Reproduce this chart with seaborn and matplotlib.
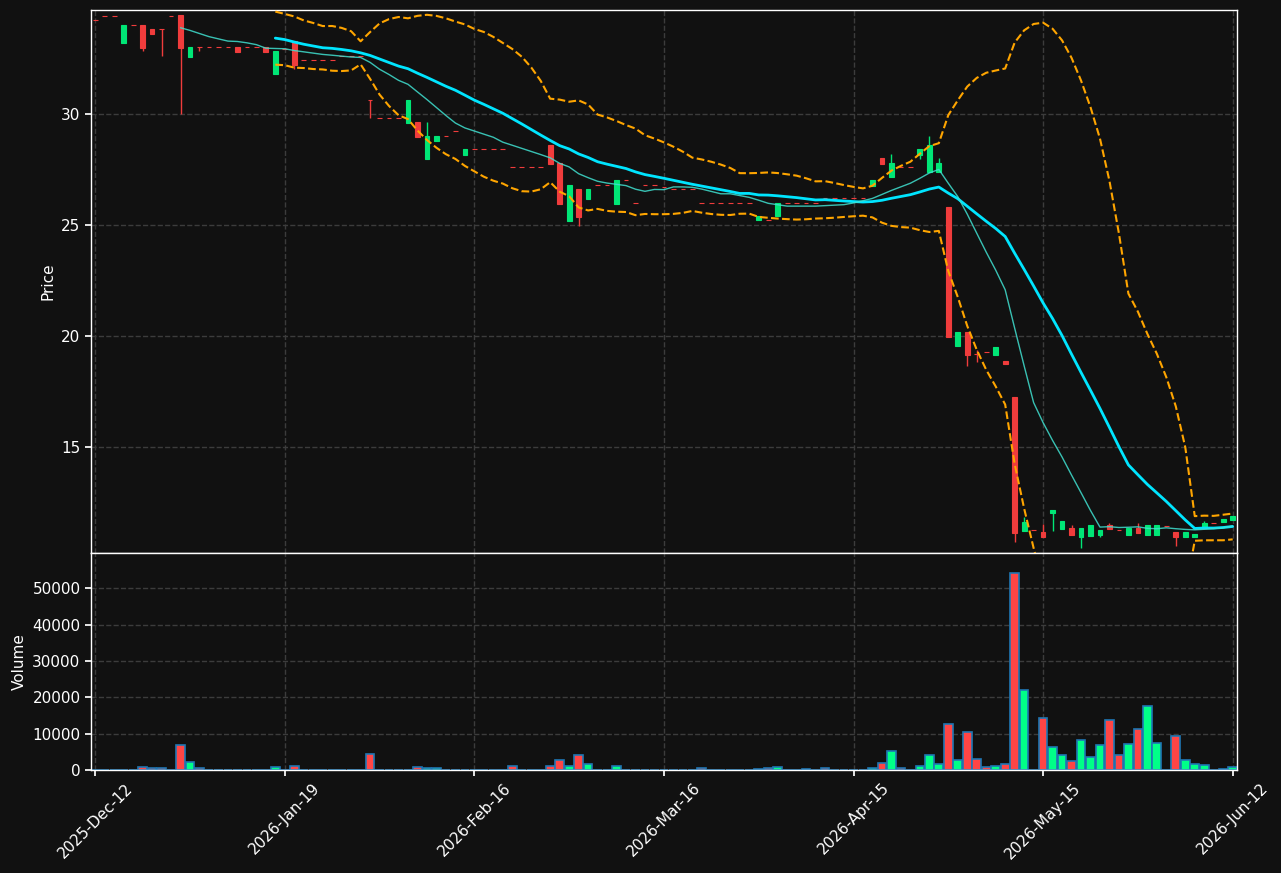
import numpy as np
import pandas as pd
import matplotlib
matplotlib.use("Agg")
import matplotlib.pyplot as plt
import seaborn as sns

# tick labels every 20 sessions
tick_pos = [0, 20, 40, 60, 80, 100, 120]
tick_labels = ["2025-Dec-12", "2026-Jan-19", "2026-Feb-16", "2026-Mar-16",
               "2026-Apr-15", "2026-May-15", "2026-Jun-12"]

opens = [
    34.22, 34.40, 34.40, 33.20, 34.00, 34.01, 33.83, 33.82, 34.40, 34.45,
    32.57, 33.00, 33.00, 33.00, 33.00, 33.02, 33.00, 33.00, 33.00, 31.80,
    32.90, 33.27, 32.42, 32.42, 32.42, 32.42, 32.60, 32.60, 32.60, 30.62,
    29.81, 29.81, 29.81, 29.60, 29.64, 27.99, 28.80, 29.00, 29.22, 28.15,
    28.41, 28.41, 28.41, 28.41, 27.60, 27.60, 27.60, 27.60, 28.60, 27.78,
    25.18, 26.62, 26.17, 26.79, 26.79, 25.95, 27.03, 25.98, 26.79, 26.79,
    26.70, 26.61, 26.61, 26.61, 25.98, 25.98, 25.98, 25.98, 25.98, 25.98,
    25.20, 25.21, 25.38, 25.98, 25.98, 25.98, 25.98, 26.20, 26.20, 26.20,
    26.20, 26.20, 26.77, 28.02, 27.18, 27.60, 27.60, 28.17, 27.40, 27.40,
    25.81, 19.56, 20.18, 19.18, 19.27, 19.16, 18.87, 17.25, 11.22, 11.25,
    11.17, 12.04, 11.31, 11.35, 10.95, 10.99, 11.04, 11.47, 11.26, 11.04,
    11.37, 11.04, 11.04, 11.46, 11.17, 10.95, 10.95, 11.35, 11.56, 11.64,
    11.71,
]
closes = [
    34.22, 34.40, 34.40, 34.01, 34.00, 32.97, 33.60, 33.82, 34.40, 32.97,
    33.02, 33.00, 33.00, 33.00, 33.00, 32.79, 33.00, 33.00, 32.80, 32.84,
    32.90, 32.19, 32.42, 32.42, 32.42, 32.42, 32.60, 32.60, 32.60, 30.62,
    29.81, 29.81, 29.81, 30.63, 28.98, 29.00, 29.00, 29.00, 29.22, 28.42,
    28.41, 28.41, 28.41, 28.41, 27.60, 27.60, 27.60, 27.60, 27.75, 25.94,
    26.80, 25.36, 26.62, 26.79, 26.79, 27.03, 27.03, 25.98, 26.79, 26.79,
    26.70, 26.61, 26.61, 26.61, 25.98, 25.98, 25.98, 25.98, 25.98, 25.98,
    25.42, 25.21, 25.98, 25.98, 25.98, 25.98, 25.98, 26.20, 26.20, 26.20,
    26.20, 26.20, 27.03, 27.76, 27.79, 27.60, 27.60, 28.42, 28.60, 27.79,
    19.97, 20.18, 19.14, 19.18, 19.27, 19.50, 18.75, 11.14, 11.63, 11.25,
    10.95, 12.16, 11.67, 11.05, 11.35, 11.49, 11.26, 11.32, 11.26, 11.37,
    11.13, 11.49, 11.49, 11.46, 10.95, 11.17, 11.08, 11.56, 11.56, 11.76,
    11.89,
]
# wick ends that go beyond the body
upper_wicks = {35: 29.63, 84: 28.20, 88: 29.00, 89: 28.02, 93: 19.37, 98: 11.86,
               100: 11.53, 103: 11.49, 107: 11.59, 110: 11.59, 117: 11.68}
lower_wicks = {5: 32.82, 7: 32.60, 9: 30.00, 11: 32.82, 21: 32.00, 29: 29.82,
               51: 24.97, 87: 27.97, 92: 18.66, 93: 18.85, 97: 10.73, 101: 11.23,
               104: 10.44, 106: 10.96, 114: 10.56}
volumes = [
    0, 0, 0, 0, 0, 750, 450, 450, 0, 6800,
    2100, 450, 0, 0, 0, 0, 0, 0, 0, 750,
    0, 1000, 0, 0, 0, 0, 0, 0, 0, 4300,
    0, 0, 0, 0, 750, 450, 450, 0, 0, 0,
    0, 0, 0, 0, 1000, 0, 0, 0, 1000, 2700,
    1000, 4100, 1600, 0, 0, 1000, 0, 0, 0, 0,
    0, 0, 0, 0, 450, 0, 0, 0, 0, 0,
    200, 450, 750, 0, 0, 200, 0, 450, 0, 0,
    0, 0, 450, 1850, 5150, 450, 0, 1000, 4050, 1550,
    12600, 2650, 10400, 2950, 750, 1000, 1550, 54300, 22000, 100,
    14300, 6250, 4050, 2400, 8200, 3500, 6800, 13700, 4050, 7100,
    11200, 17600, 7350, 0, 9300, 2650, 1550, 1300, 0, 150,
    750,
]

df = pd.DataFrame({"x": np.arange(len(closes)), "open": opens,
                   "close": closes, "volume": volumes})
df["body_lo"] = df[["open", "close"]].min(axis=1)
df["body_hi"] = df[["open", "close"]].max(axis=1)
df["high"] = df["body_hi"]
df["low"] = df["body_lo"]
for i, v in upper_wicks.items():
    df.loc[i, "high"] = v
for i, v in lower_wicks.items():
    df.loc[i, "low"] = v

df["ma10"] = df["close"].rolling(10).mean()
df["ma20"] = df["close"].rolling(20).mean()
std20 = df["close"].rolling(20).std(ddof=0)
df["bb_up"] = df["ma20"] + 2 * std20
df["bb_dn"] = df["ma20"] - 2 * std20

up = df["close"] > df["open"]
candle_col = np.where(up, "#00e676", "#f03c3c")
vol_col = np.where(up, "#00ff88", "#ff4545")

bg = "#111111"
sns.set_theme(style="dark", rc={
    "axes.facecolor": bg, "figure.facecolor": bg, "axes.edgecolor": "white",
    "axes.labelcolor": "white", "xtick.color": "white", "ytick.color": "white",
    "text.color": "white", "grid.color": "#3c3c3c", "grid.linestyle": "--",
    "xtick.bottom": True, "ytick.left": True,
})
plt.rcParams["font.family"] = ["DejaVu Sans"]

fig = plt.figure(figsize=(12.81, 8.73), dpi=100)
ax1 = fig.add_axes([0.0710, 0.3666, 0.8946, 0.6220])
ax2 = fig.add_axes([0.0710, 0.1180, 0.8946, 0.2486], sharex=ax1)

# candles
ax1.vlines(df["x"], df["low"], df["high"], colors=candle_col, linewidth=1, zorder=2)
ax1.bar(df["x"], df["body_hi"] - df["body_lo"], bottom=df["body_lo"],
        width=0.5, color=candle_col, edgecolor=candle_col, linewidth=0.8, zorder=3)

# overlays
sns.lineplot(data=df, x="x", y="ma20", ax=ax1, color="#00e5ff", linewidth=2, zorder=4)
sns.lineplot(data=df, x="x", y="ma10", ax=ax1, color="#40e0d0", linewidth=1, alpha=0.85, zorder=4)
sns.lineplot(data=df, x="x", y="bb_up", ax=ax1, color="#ffa500", linewidth=1.5, linestyle="--", zorder=4)
sns.lineplot(data=df, x="x", y="bb_dn", ax=ax1, color="#ffa500", linewidth=1.5, linestyle="--", zorder=4)

# volume
ax2.bar(df["x"], df["volume"], width=0.92, color=vol_col, edgecolor="#1f77b4", linewidth=1.2, zorder=2)

ax1.set_xlim(-0.45, 120.45)
ax1.set_ylim(10.23, 34.68)
ax2.set_ylim(0, df["volume"].max() * 1.1)

ax1.set_ylabel("Price", fontsize=11)
ax1.set_xlabel("")
ax2.set_ylabel("Volume", fontsize=11)
ax2.set_xlabel("")
ax2.set_xticks(tick_pos)
ax2.set_xticklabels(tick_labels, rotation=45)
ax1.tick_params(axis="x", length=0, labelbottom=False)
ax1.tick_params(axis="y", labelsize=11, length=4)
ax2.tick_params(axis="both", labelsize=11, length=4)

for ax in (ax1, ax2):
    ax.grid(True, color="#3c3c3c", linestyle="--", linewidth=1)
    for s in ax.spines.values():
        s.set_color("white")
        s.set_linewidth(1)

fig.savefig("out.png", dpi=100, facecolor=bg)
